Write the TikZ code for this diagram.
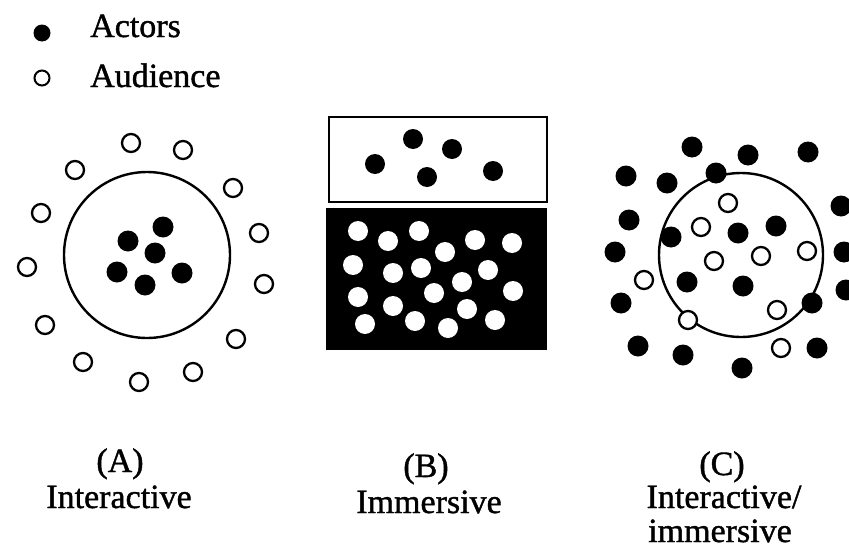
\documentclass[tikz,border=0pt]{standalone}
\usepackage{fontspec}
\setmainfont{Liberation Serif}
\newfontfamily\heavyfont{Liberation Serif}[FakeBold=1.2]
\begin{document}
\begin{tikzpicture}[x=1pt,y=-1pt,
  actor/.style={circle,fill=black,draw=none,minimum size=21pt,inner sep=0pt},
  aud/.style={circle,fill=white,draw=black,line width=2.3pt,minimum size=18pt,inner sep=0pt},
  bactor/.style={circle,fill=black,draw=none,minimum size=20pt,inner sep=0pt},
  hole/.style={circle,fill=white,draw=none,minimum size=20pt,inner sep=0pt},
  ring/.style={draw=black,line width=2.4pt},
  txt/.style={inner sep=0pt,font=\heavyfont\fontsize{34}{40}\selectfont},
  lbl/.style={inner sep=0pt,anchor=base,font=\heavyfont\fontsize{34}{40}\selectfont}]
\useasboundingbox[fill=white] (0,0) rectangle (849,554);

% legend
\node[actor,minimum size=17pt] (legA) at (42,33) {};
\node[aud,minimum size=15pt,line width=2pt] (legB) at (42,78) {};
\node[txt,anchor=base west] (legAt) at (90,37) {Actors};
\node[txt,anchor=base west] (legBt) at (90,87) {Audience};

% Panel A
\node[circle,ring,minimum size=166pt,inner sep=0pt] (ringA) at (147,255) {};
\foreach \x/\y [count=\i] in {131/143,183/150,75/170,233/188,41/213,259/233,27/267,264/284,45/325,236/339,83/362,193/372,139/382}
  \node[aud] (Aau\i) at (\x,\y) {};
\foreach \x/\y [count=\i] in {163/227,128/241,155/253,117/272,182/273,145/285}
  \node[actor] (Aac\i) at (\x,\y) {};

% Panel B
\node[draw=black,line width=2.4pt,minimum width=218pt,minimum height=85pt,inner sep=0pt] (stage) at (438,159.5) {};
\node[fill=black,draw=black,minimum width=220pt,minimum height=141pt,inner sep=0pt] (house) at (436,278.5) {};
\foreach \x/\y [count=\i] in {413/139,452/149,375/164,427/177,493/171}
  \node[bactor] (Bac\i) at (\x,\y) {};
\foreach \x/\y [count=\i] in {358/231,388/241,419/231,445/252,475/240,512/243,353/265,393/273,421/268,488/270,462/282,358/297,434/293,513/291,393/306,467/309,365/324,415/321,448/328,495/320}
  \node[hole] (Bau\i) at (\x,\y) {};

% Panel C
\node[circle,ring,minimum size=164pt,inner sep=0pt] (ringC) at (741,255) {};
\foreach \x/\y [count=\i] in {692/147,748/155,808/152,626/176,667/183,716/173,841/206,629/220,671/237,738/233,776/226,615/252,844/252,687/282,743/286,846/290,621/303,812/303,638/346,683/355,817/348,742/368}
  \node[actor] (Cac\i) at (\x,\y) {};
\foreach \x/\y [count=\i] in {728/203,701/227,714/261,761/256,807/251,644/280,777/310,688/320,781/348}
  \node[aud] (Cau\i) at (\x,\y) {};

% labels
\node[lbl] (labA) at (120,472) {(A)};
\node[lbl] (labAt) at (119,508) {Interactive};
\node[lbl] (labB) at (426,477) {(B)};
\node[lbl] (labBt) at (429,513) {Immersive};
\node[lbl] (labC) at (722,475) {(C)};
\node[lbl] (labCt) at (724,508) {Interactive/};
\node[lbl] (labCt2) at (720,542) {immersive};
\end{tikzpicture}
\end{document}
